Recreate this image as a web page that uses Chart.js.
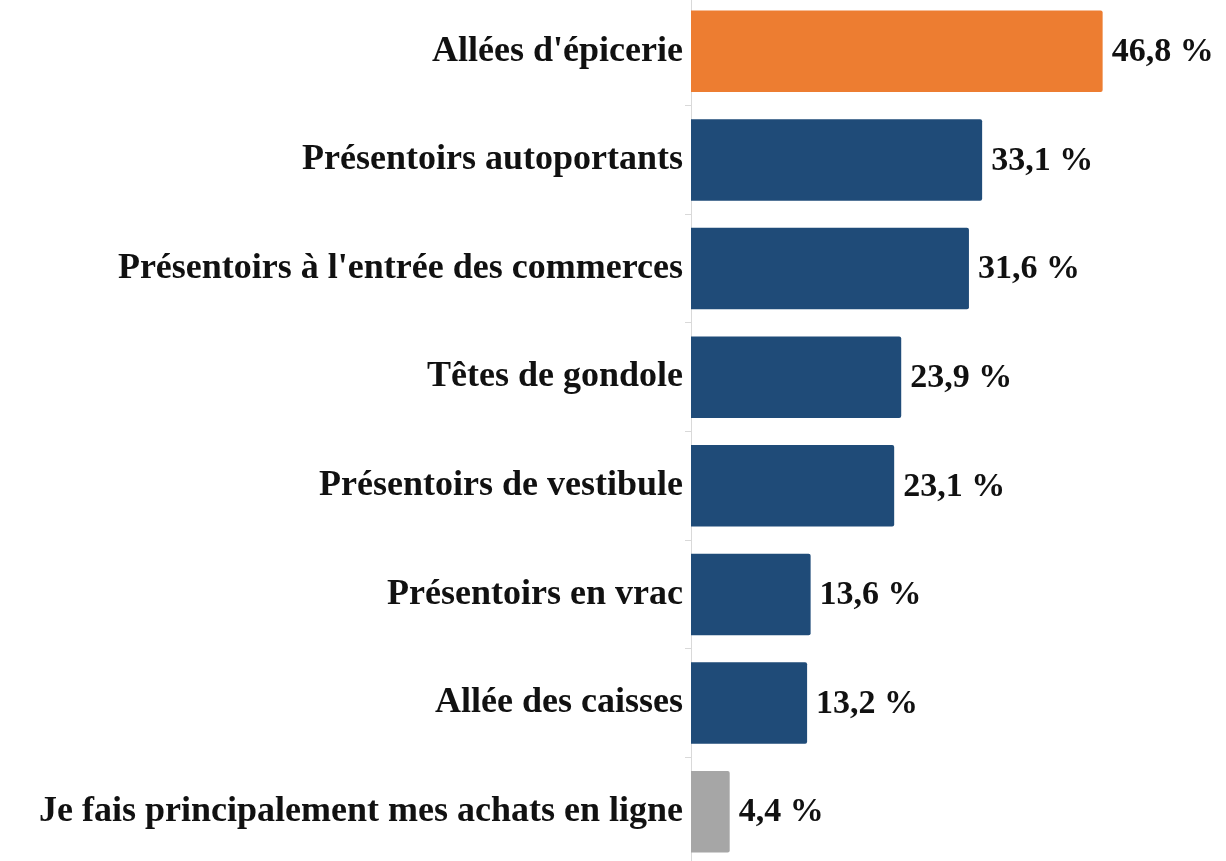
<!DOCTYPE html>
<html>
<head>
<meta charset="utf-8">
<script src="https://cdn.jsdelivr.net/npm/chart.js@4.4.1/dist/chart.umd.min.js"></script>
<style>
    html, body { margin: 0; padding: 0; background: #ffffff; overflow: hidden; }
    #wrap { position: absolute; left: 0; top: -3px; width: 1226px; height: 869px; }
</style>
</head>
<body>
<div id="wrap"><canvas id="placementChart"></canvas></div>
<script>
// Chart data
const categories = [
    "Allées d'épicerie",
    'Présentoirs autoportants',
    "Présentoirs à l'entrée des commerces",
    'Têtes de gondole',
    'Présentoirs de vestibule',
    'Présentoirs en vrac',
    'Allée des caisses',
    'Je fais principalement mes achats en ligne'
];
const shares = [46.8, 33.1, 31.6, 23.9, 23.1, 13.6, 13.2, 4.4];
const barColors = ['#ED7D31', '#1F4B78', '#1F4B78', '#1F4B78', '#1F4B78', '#1F4B78', '#1F4B78', '#A6A6A6'];

const FONT = "'Liberation Serif', 'DejaVu Serif', serif";

// Draw "46,8 %" style labels at the end of each bar
const valueLabels = {
    id: 'valueLabels',
    afterDatasetsDraw(chart) {
        const ctx = chart.ctx;
        const meta = chart.getDatasetMeta(0);
        ctx.save();
        ctx.font = 'bold 34px ' + FONT;
        ctx.fillStyle = '#111111';
        ctx.textAlign = 'left';
        ctx.textBaseline = 'middle';
        meta.data.forEach((bar, i) => {
            const txt = shares[i].toFixed(1).replace('.', ',') + ' %';
            ctx.fillText(txt, bar.x + 9, bar.y + 1);
        });
        ctx.restore();
    }
};

new Chart(document.getElementById('placementChart'), {
    type: 'bar',
    data: {
        labels: categories,
        datasets: [{
            data: shares,
            backgroundColor: barColors,
            borderWidth: 0,
            borderRadius: 2,
            borderSkipped: 'start',
            barPercentage: 0.75,
            categoryPercentage: 1.0
        }]
    },
    plugins: [valueLabels],
    options: {
        indexAxis: 'y',
        responsive: true,
        maintainAspectRatio: false,
        animation: false,
        layout: {
            padding: { top: 0, right: 53, bottom: 0, left: 0 }
        },
        plugins: {
            legend: { display: false },
            tooltip: { enabled: false }
        },
        scales: {
            x: {
                display: false,
                min: 0,
                max: 54.8
            },
            y: {
                // fixed label column, no extra padding above/below the bars
                afterFit(scale) {
                    scale.width = 691;
                    scale.paddingTop = 0;
                    scale.paddingBottom = 0;
                },
                grid: {
                    drawOnChartArea: false,
                    tickLength: 6,
                    color: '#d9d9d9'
                },
                border: { color: '#d9d9d9', width: 1 },
                ticks: {
                    color: '#111111',
                    padding: 2,
                    font: { family: FONT, size: 36, weight: 'bold' }
                }
            }
        }
    }
});
</script>
</body>
</html>
